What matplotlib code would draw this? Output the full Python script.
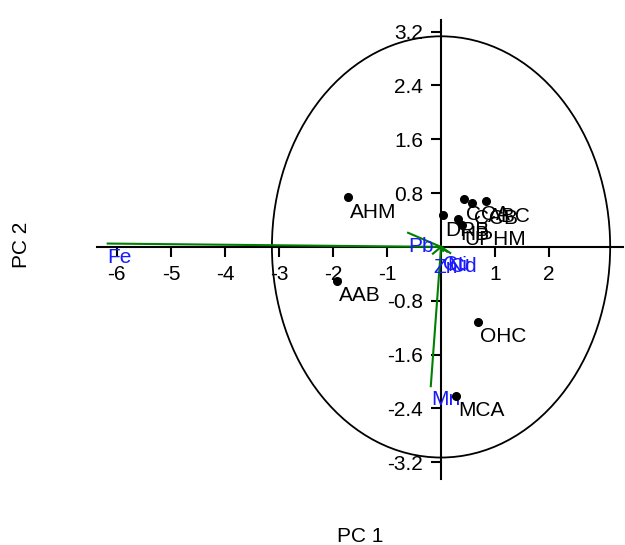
import numpy as np
import matplotlib
matplotlib.use("Agg")
import matplotlib.pyplot as plt
from matplotlib.patches import Ellipse

plt.rcParams["font.family"] = ["Liberation Sans", "DejaVu Sans"]
plt.rcParams["font.size"] = 15
plt.rcParams["axes.unicode_minus"] = False

# sample scores (PC 1, PC 2)
site_names = ["AHM", "AAB", "OHC", "MCA", "CCA", "CCB", "ABC", "DRB", "HB", "UPHM"]
site_pc1 = [-1.72, -1.93, 0.69, 0.28, 0.43, 0.57, 0.83, 0.04, 0.31, 0.39]
site_pc2 = [0.74, -0.50, -1.11, -2.21, 0.71, 0.65, 0.68, 0.47, 0.41, 0.33]

# variable loadings
var_names = ["Fe", "Pb", "Mn", "Zn", "Cu", "Ni", "Cd"]
var_pc1 = [-6.17, -0.61, -0.19, -0.15, 0.04, 0.11, 0.17]
var_pc2 = [0.05, 0.21, -2.07, -0.10, -0.06, -0.07, -0.09]

circle_r = 3.13
xticks = [-6, -5, -4, -3, -2, -1, 1, 2]
yticks = [-3.2, -2.4, -1.6, -0.8, 0.8, 1.6, 2.4, 3.2]

fig = plt.figure(figsize=(6.25, 5.45), dpi=100)
ax = fig.add_axes([0.155, 0.121, 0.842, 0.842])
ax.set_xlim(-6.37, 3.37)
ax.set_ylim(-3.45, 3.37)

"""~~~~~ axes through the origin ~~~~~"""
for s in ["top", "right"]:
    ax.spines[s].set_visible(False)
for s in ["left", "bottom"]:
    ax.spines[s].set_position(("data", 0))
    ax.spines[s].set_linewidth(1.5)
ax.set_xticks(xticks)
ax.set_xticklabels([str(t) for t in xticks])
ax.set_yticks(yticks)
ax.set_yticklabels([str(t) for t in yticks])
ax.tick_params(axis="both", direction="out", length=7, width=1.5, pad=6,
               labelsize=15)

"""~~~~~ circle ~~~~~"""
ax.add_patch(Ellipse((0, 0), 2 * circle_r, 2 * circle_r, fill=False,
                     edgecolor="black", linewidth=1.3, zorder=2))

"""~~~~~ loadings ~~~~~"""
for n, x, y in zip(var_names, var_pc1, var_pc2):
    ax.plot([0, x], [0, y], color="#008000", linewidth=1.5, zorder=3)
    ax.annotate(n, (x, y), xytext=(0, -3), textcoords="offset points",
                color="#1a1aff", ha="left", va="top", fontsize=15, zorder=4)

"""~~~~~ scores ~~~~~"""
ax.plot(site_pc1, site_pc2, "o", color="black", markersize=5.5, zorder=5)
for n, x, y in zip(site_names, site_pc1, site_pc2):
    ax.annotate(n, (x, y), xytext=(1.5, -4), textcoords="offset points",
                ha="left", va="top", fontsize=15, color="black", zorder=5)

fig.text(0.576, 0.016, "PC 1", ha="center", va="center", fontsize=15)
fig.text(0.034, 0.55, "PC 2", ha="center", va="center", rotation=90, fontsize=15)

fig.savefig("out.png", dpi=100)
plt.close(fig)
